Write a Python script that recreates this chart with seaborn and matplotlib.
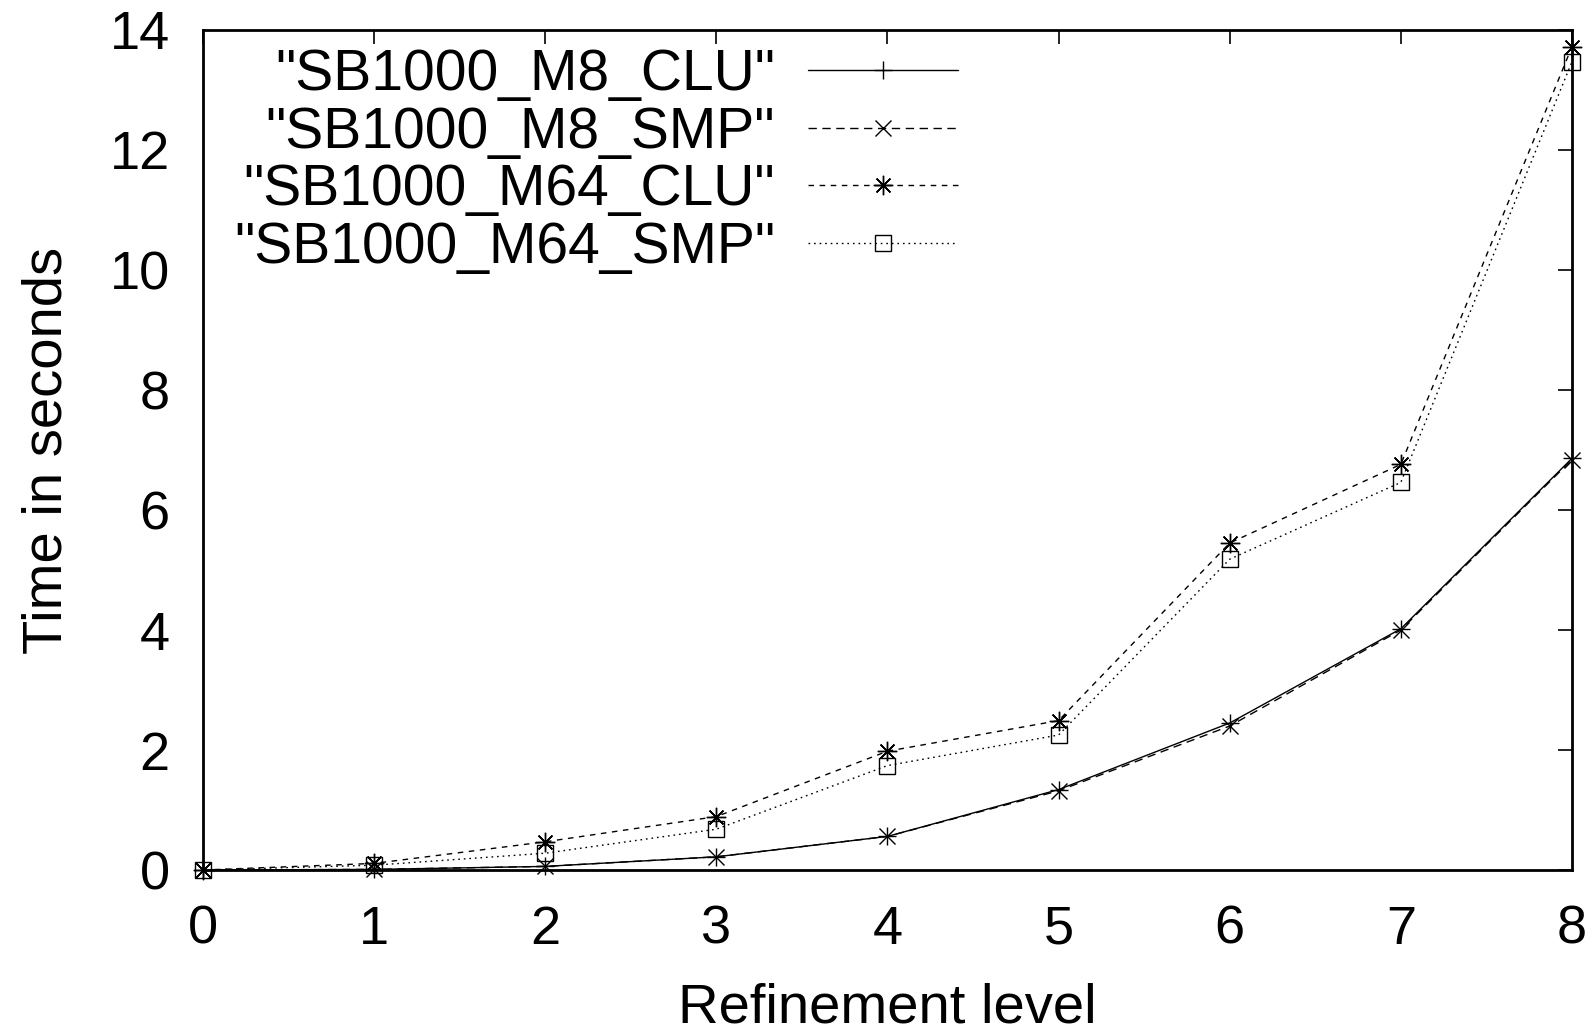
import matplotlib
matplotlib.use("Agg")
import matplotlib.pyplot as plt
import seaborn as sns
import pandas as pd

# Refinement levels and measured run times (seconds)
levels = [0, 1, 2, 3, 4, 5, 6, 7, 8]
m8_clu = [0.0, 0.01, 0.06, 0.22, 0.56, 1.34, 2.45, 4.02, 6.86]
m8_smp = [0.0, 0.01, 0.06, 0.22, 0.56, 1.32, 2.40, 4.00, 6.84]
m64_clu = [0.0, 0.11, 0.47, 0.89, 1.98, 2.49, 5.45, 6.76, 13.72]
m64_smp = [0.0, 0.08, 0.28, 0.68, 1.74, 2.25, 5.18, 6.46, 13.47]

series_names = ['"SB1000_M8_CLU"', '"SB1000_M8_SMP"',
                '"SB1000_M64_CLU"', '"SB1000_M64_SMP"']
series_values = [m8_clu, m8_smp, m64_clu, m64_smp]

x_ticks = [0, 1, 2, 3, 4, 5, 6, 7, 8]
y_ticks = [0, 2, 4, 6, 8, 10, 12, 14]

sns.set_theme(style="white")
plt.rcParams["font.family"] = ["Liberation Sans", "DejaVu Sans"]
plt.rcParams["text.color"] = "black"
plt.rcParams["axes.labelcolor"] = "black"

styles = [
    dict(marker="+", linestyle="-", markersize=13, markeredgewidth=1.0),
    dict(marker="x", linestyle=(0, (6, 4)), markersize=11, markeredgewidth=1.0),
    dict(marker=(8, 2, 0), linestyle=(0, (4, 4)), markersize=14, markeredgewidth=1.0),
    dict(marker="s", linestyle=(0, (1.2, 2.8)), markersize=11, markeredgewidth=1.0,
         markerfacecolor="none"),
]

fig = plt.figure(figsize=(15.92, 10.34), dpi=100)
ax = fig.add_axes([0.1275, 0.1586, 0.8599, 0.8124])

for name, vals, st in zip(series_names, series_values, styles):
    df = pd.DataFrame({"level": levels, "time": vals})
    sns.lineplot(data=df, x="level", y="time", ax=ax, color="black",
                 linewidth=1.0, markeredgecolor="black", label=name,
                 clip_on=False, **st)

ax.set_xlim(0, 8)
ax.set_ylim(0, 14)
ax.set_xticks(x_ticks)
ax.set_yticks(y_ticks)
ax.set_xticklabels([str(t) for t in x_ticks])
ax.set_yticklabels([str(t) for t in y_ticks])

for side in ["left", "right", "top", "bottom"]:
    ax.spines[side].set_color("black")
    ax.spines[side].set_linewidth(2.0)

ax.tick_params(axis="both", which="major", direction="in", length=10, width=1.2,
               color="black", top=True, right=True, labelsize=39,
               labelcolor="black")
ax.tick_params(axis="x", pad=25)
ax.tick_params(axis="y", pad=24)

ax.set_xlabel("Refinement level", fontsize=40.5, color="black")
ax.set_ylabel("Time in seconds", fontsize=40.5, color="black")
ax.xaxis.set_label_coords(0.5, -0.181)
ax.xaxis.label.set_va("baseline")
ax.yaxis.set_label_coords(-0.103, 0.5)
ax.yaxis.label.set_va("baseline")

leg = ax.legend(loc="upper right", bbox_to_anchor=(0.5515, 0.9786),
                frameon=False, markerfirst=False, fontsize=41,
                handlelength=2.64, handletextpad=0.57, labelspacing=0.065,
                borderpad=0, borderaxespad=0)
for txt in leg.get_texts():
    txt.set_color("black")

fig.savefig("out.png", dpi=100, facecolor="white")
